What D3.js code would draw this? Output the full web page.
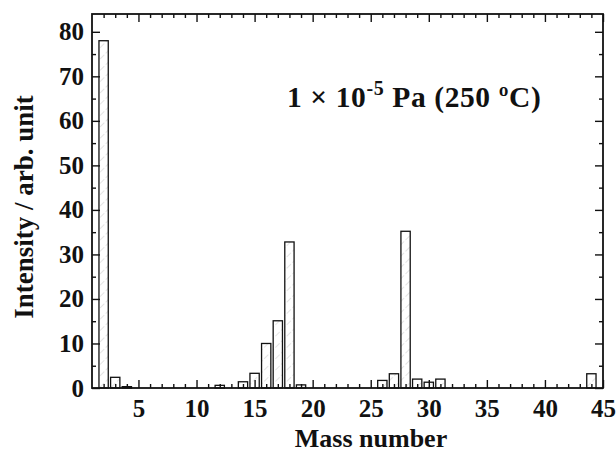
<!DOCTYPE html>
<html><head><meta charset="utf-8">
<script src="https://cdn.jsdelivr.net/npm/d3@7/dist/d3.min.js"></script>
<style>body{margin:0;background:#fff} svg text{font-family:"Liberation Serif","DejaVu Serif",serif;font-weight:bold;fill:#111}</style>
</head><body>
<svg id="c" width="616" height="455"></svg>
<script>
const masses = [2,3,4,12,14,15,16,17,18,19,26,27,28,29,30,31,44];
const intensity = [78,2.4,0.3,0.6,1.4,3.3,10,15.1,32.8,0.7,1.7,3.2,35.2,2.0,1.3,2.0,3.2];
const xTickLabels = [5,10,15,20,25,30,35,40,45];
const yTickLabels = [0,10,20,30,40,50,60,70,80];

const svg = d3.select("#c");
const m = {l:92, r:603, t:14, b:388};
const x = d3.scaleLinear().domain([1,45]).range([m.l,m.r]);
const y = d3.scaleLinear().domain([0,84]).range([m.b,m.t]);

const defs = svg.append("defs");
const pat = defs.append("pattern").attr("id","hatch").attr("patternUnits","userSpaceOnUse")
  .attr("width",8).attr("height",8).attr("patternTransform","rotate(45)");
pat.append("rect").attr("width",8).attr("height",8).attr("fill","#fff");
pat.append("line").attr("x1",0).attr("y1",0).attr("x2",0).attr("y2",8)
  .attr("stroke","#bbb").attr("stroke-width",0.8).attr("stroke-dasharray","3,2");

const bw = x(1.8)-x(1);
svg.append("g").selectAll("rect").data(masses).join("rect")
  .attr("x",(d)=>x(d)-bw/2).attr("width",bw)
  .attr("y",(d,i)=>y(intensity[i])).attr("height",(d,i)=>y(0)-y(intensity[i]))
  .attr("fill","url(#hatch)").attr("stroke","#111").attr("stroke-width",1.3);

const minorX = d3.range(2,45);
const minorY = d3.range(5,84,10);
function ax(g){ g.attr("font-family",null).attr("font-size",null);
  g.selectAll(".domain").remove(); g.selectAll("line").attr("stroke","#111").attr("stroke-width",1.4); }

svg.append("g").attr("transform",`translate(0,${m.b})`)
  .call(d3.axisBottom(x).tickValues(xTickLabels).tickSizeInner(-8).tickSizeOuter(0).tickPadding(11))
  .call(ax).call(g=>g.selectAll("text").style("font-size","25px"));
svg.append("g").attr("transform",`translate(0,${m.b})`)
  .call(d3.axisBottom(x).tickValues(minorX.filter(v=>v%5)).tickSizeInner(-4).tickSizeOuter(0).tickFormat(""))
  .call(ax);
svg.append("g").attr("transform",`translate(0,${m.t})`)
  .call(d3.axisTop(x).tickValues(xTickLabels).tickSizeInner(-8).tickSizeOuter(0).tickFormat(""))
  .call(ax);
svg.append("g").attr("transform",`translate(0,${m.t})`)
  .call(d3.axisTop(x).tickValues(minorX.filter(v=>v%5)).tickSizeInner(-4).tickSizeOuter(0).tickFormat(""))
  .call(ax);
svg.append("g").attr("transform",`translate(${m.l},0)`)
  .call(d3.axisLeft(y).tickValues(yTickLabels).tickSizeInner(-8).tickSizeOuter(0).tickPadding(8))
  .call(ax).call(g=>g.selectAll("text").style("font-size","25px"));
svg.append("g").attr("transform",`translate(${m.l},0)`)
  .call(d3.axisLeft(y).tickValues(minorY).tickSizeInner(-4).tickSizeOuter(0).tickFormat(""))
  .call(ax);
svg.append("g").attr("transform",`translate(${m.r},0)`)
  .call(d3.axisRight(y).tickValues(yTickLabels).tickSizeInner(-8).tickSizeOuter(0).tickFormat(""))
  .call(ax);
svg.append("g").attr("transform",`translate(${m.r},0)`)
  .call(d3.axisRight(y).tickValues(minorY).tickSizeInner(-4).tickSizeOuter(0).tickFormat(""))
  .call(ax);

svg.append("rect").attr("x",m.l).attr("y",m.t).attr("width",m.r-m.l).attr("height",m.b-m.t)
  .attr("fill","none").attr("stroke","#111").attr("stroke-width",1.8);

svg.append("text").attr("x",371).attr("y",447).attr("text-anchor","middle")
  .style("font-size","26px").text("Mass number");
svg.append("text").attr("transform","translate(33,207) rotate(-90)").attr("text-anchor","middle")
  .style("font-size","27px").text("Intensity / arb. unit");

const t = svg.append("text").attr("x",287).attr("y",107).style("font-size","29.5px").style("letter-spacing","0.6px");
t.append("tspan").text("1 × 10");
t.append("tspan").attr("dy",-12).style("font-size","20px").text("-5");
t.append("tspan").attr("dy",12).text(" Pa (250 ºC)");
</script>
</body></html>
